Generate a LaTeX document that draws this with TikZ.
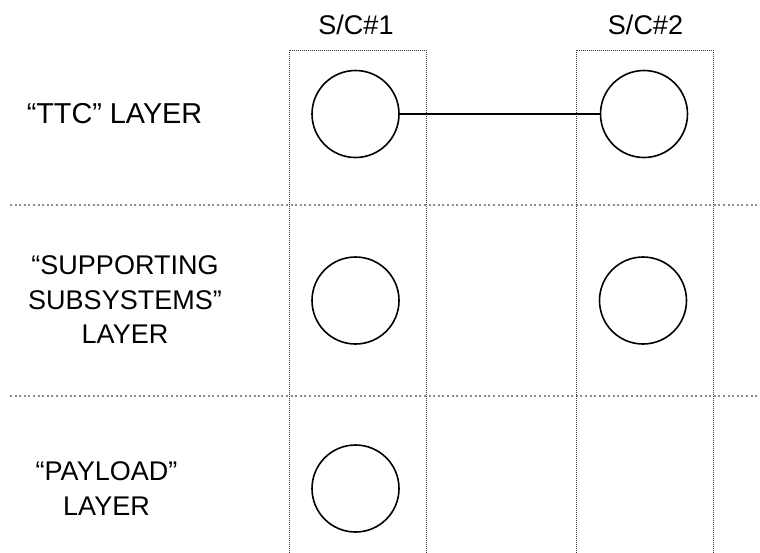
\documentclass[tikz,border=0pt]{standalone}
\usepackage{fontspec}
\setmainfont{Liberation Sans}
\begin{document}
\begin{tikzpicture}[x=1pt,y=-1pt,
  node/.style={circle,draw,line width=1.6pt,minimum size=87pt,inner sep=0pt},
  lbl/.style={font=\fontsize{27}{34.5}\selectfont,align=center,inner sep=0pt,anchor=center},
  column/.style={draw=black!80,line width=0.8pt,dash pattern=on 1pt off 1pt},
  divider/.style={draw=black!45,line width=2pt,dash pattern=on 2pt off 2.6pt},
  link/.style={line width=1.6pt}]
\useasboundingbox (0,0) rectangle (760,552);
% layer dividers
\coordinate (d1a) at (10,205);
\coordinate (d1b) at (760,205);
\coordinate (d2a) at (10,396);
\coordinate (d2b) at (760,396);
\draw[divider] (d1a) -- (d1b);
\draw[divider] (d2a) -- (d2b);
% spacecraft columns
\draw[column] (289,553) -- (289,50) -- (426,50) -- (426,553);
\draw[column] (576,553) -- (576,50) -- (713,50) -- (713,553);
% column titles
\node[lbl,anchor=base] (t1) at (356,34) {S/C\#1};
\node[lbl,anchor=base] (t2) at (645.5,34) {S/C\#2};
% layer labels
\node[lbl,font=\fontsize{28.8}{34.5}\selectfont] (l1) at (114.5,113.5) {“TTC” LAYER};
\node[lbl] (l2) at (125,300) {“SUPPORTING\\SUBSYSTEMS”\\LAYER};
\node[lbl] (l3) at (106.5,488.5) {“PAYLOAD”\\LAYER};
% circles
\node[node] (a1) at (355.5,114) {};
\node[node] (b1) at (644,114) {};
\node[node] (a2) at (355.5,300.5) {};
\node[node] (b2) at (643,300.5) {};
\node[node] (a3) at (355.5,488.5) {};
\draw[link] (a1) -- (b1);
\end{tikzpicture}
\end{document}
